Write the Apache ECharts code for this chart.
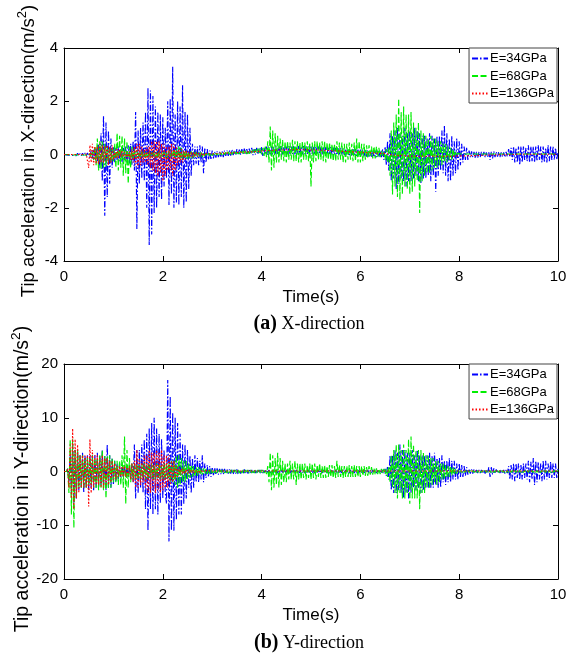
<!DOCTYPE html>
<html>
<head>
<meta charset="utf-8">
<script src="https://cdn.jsdelivr.net/npm/echarts@6/dist/echarts.min.js"></script>
<style>
  html, body { margin: 0; padding: 0; background: #fff; }
  #chart { width: 579px; height: 655px; }
</style>
</head>
<body>
<div id="chart"></div>
<script>
// sampling step of the read-off signals (s)
const dt = 0.025;
const seriesNames = ['E=34GPa', 'E=68GPa', 'E=136GPa'];
const xTicks = [0, 2, 4, 6, 8, 10];

// (a) X-direction, one row = 0.5 s
const x34 = [
  0,0.02,-0.02,0.03,-0.03,0.02,-0.03,0.04,-0.04,0.03,-0.04,0.05,-0.05,0.04,-0.05,0.05,-0.04,0.06,-0.05,0.06,
  0.1,-0.12,0.15,-0.15,0.2,-0.2,0.25,-0.25,0.4,-0.5,0.8,-1.0,1.45,-2.3,1.2,-1.6,0.9,-1.1,0.6,-0.5,
  0.3,-0.3,0.25,-0.2,0.3,-0.25,0.2,-0.3,0.25,-0.2,0.3,-0.3,0.35,-0.35,0.4,-0.4,0.5,-0.6,1.6,-2.8,
  0.9,-1.1,1.0,-0.9,1.2,-1.0,1.6,-2.0,2.5,-3.4,2.4,-3.0,2.2,-2.2,1.8,-2.0,1.6,-1.6,1.5,-1.7,
  1.4,-1.2,1.0,-0.9,2.0,-1.9,2.1,-1.5,3.3,-2.0,1.5,-1.8,2.0,-1.9,1.8,-1.6,2.6,-2.0,1.6,-1.8,
  1.5,-1.3,1.0,-0.8,0.4,-0.4,0.3,-0.35,0.3,-0.4,0.35,-0.3,0.3,-0.7,0.25,-0.3,0.2,-0.2,0.15,-0.2,
  0.15,-0.15,0.1,-0.12,0.12,-0.1,0.1,-0.08,0.12,-0.1,0.15,-0.05,0.15,-0.05,0.15,-0.04,0.18,-0.02,0.15,-0.02,
  0.2,0,0.18,0,0.2,0.02,0.22,0.02,0.2,0,0.22,0.02,0.25,-0.02,0.2,0,0.25,0,0.22,0.02,
  0.28,-0.05,0.25,0,0.3,-0.02,0.28,0,0.3,0,0.28,0.02,0.3,0.02,0.3,0,0.32,0,0.3,0.02,
  0.3,0,0.32,0.02,0.3,0.02,0.32,0,0.3,0.02,0.32,0.02,0.3,0,0.32,0.02,0.3,0.02,0.3,0,
  0.3,0,0.3,0.02,0.3,0,0.3,0.02,0.28,0,0.3,0,0.28,0,0.28,0.02,0.28,0,0.26,0,
  0.25,-0.02,0.25,0,0.24,0,0.22,-0.02,0.22,0,0.2,-0.02,0.2,-0.05,0.2,-0.03,0.2,-0.05,0.18,-0.05,
  0.18,-0.05,0.18,-0.06,0.18,-0.08,0.16,-0.08,0.15,-0.08,0.15,-0.1,0.15,-0.1,0.15,-0.1,0.15,-0.1,0.2,-0.2,
  0.3,-0.4,0.5,-0.6,0.8,-1.0,0.7,-0.9,0.9,-1.3,1.0,-1.1,0.8,-0.9,0.7,-1.0,1.0,-1.2,0.8,-1.0,
  0.9,-1.0,0.8,-0.9,1.0,-0.8,0.9,-1.0,0.8,-1.1,0.7,-0.9,0.7,-0.9,0.6,-0.8,0.8,-1.0,0.7,-0.8,
  0.6,-1.4,0.7,-0.8,0.7,-0.6,0.9,-0.7,1.1,-0.8,0.8,-1.0,0.6,-1.0,0.7,-0.8,0.5,-0.7,0.6,-0.6,
  0.5,-0.4,0.4,-0.3,0.3,-0.2,0.25,-0.2,0.15,-0.1,0.12,-0.1,0.1,-0.15,0.1,-0.12,0.1,-0.1,0.1,-0.08,
  0.1,-0.1,0.08,-0.1,0.08,-0.2,0.1,-0.15,0.12,-0.1,0.1,-0.08,0.1,-0.1,0.08,-0.08,0.08,-0.1,0.1,-0.08,
  0.2,-0.1,0.25,-0.2,0.3,-0.3,0.25,-0.3,0.3,-0.4,0.3,-0.3,0.3,-0.2,0.25,-0.25,0.35,-0.3,0.3,-0.25,
  0.3,-0.3,0.3,-0.25,0.35,-0.2,0.3,-0.3,0.3,-0.3,0.25,-0.3,0.35,-0.25,0.3,-0.2,0.3,-0.2,0.25,-0.2,
  0.1
];
const x68 = [
  0,0.01,-0.01,0.01,-0.01,0.01,-0.01,0.02,-0.02,0.01,-0.01,0.02,-0.02,0.02,-0.02,0.02,-0.02,0.02,-0.02,0.02,
  -0.05,0.05,-0.1,0.1,-0.2,0.3,-0.4,0.6,-0.6,0.5,-0.55,0.5,-0.5,0.4,-0.45,0.3,-0.3,0.3,-0.3,0.2,
  -0.3,0.4,-0.5,0.8,-0.6,0.7,-0.5,0.7,-0.8,0.6,-0.7,0.5,-1.1,0.3,-0.5,0.3,-0.2,0.2,-0.15,0.15,
  -0.15,0.1,-0.15,0.15,-0.1,0.1,-0.15,0.1,-0.1,0.1,-0.12,0.1,-0.1,0.12,-0.1,0.1,-0.15,0.12,-0.1,0.1,
  -0.1,0.1,-0.12,0.1,-0.15,0.15,-0.1,0.15,-0.1,0.2,-0.15,0.2,-0.1,0.3,-0.2,0.25,-0.2,0.15,-0.15,0.15,
  -0.2,0.1,-0.15,0.12,-0.15,0.1,-0.1,0.1,-0.1,0.08,-0.08,0.08,-0.1,0.05,-0.06,0.05,-0.05,0.05,-0.05,0.05,
  -0.05,0.05,-0.04,0.05,-0.03,0.06,-0.02,0.06,-0.02,0.08,-0.01,0.08,0,0.1,0,0.1,0,0.1,0.01,0.1,
  0.02,0.12,0.02,0.12,0.02,0.14,0.03,0.14,0.02,0.15,0.03,0.15,0.05,0.18,0.04,0.2,0.05,0.22,0.05,0.25,
  0,0.25,-0.05,0.3,-0.1,0.5,-0.3,1.05,-0.6,0.9,-0.5,0.8,-0.3,0.7,-0.3,0.6,-0.2,0.55,-0.25,0.5,
  -0.3,0.5,-0.2,0.45,-0.2,0.55,-0.25,0.5,-0.25,0.5,-0.3,0.45,-0.3,0.5,-0.2,0.45,-0.2,0.5,-0.25,0.45,
  -1.2,0.45,-0.3,0.5,-0.25,0.5,-0.2,0.45,-0.2,0.5,-0.25,0.5,-0.3,0.45,-0.2,0.45,-0.2,0.4,-0.25,0.4,
  -0.25,0.5,-0.2,0.45,-0.2,0.45,-0.3,0.4,-0.3,0.4,-0.2,0.45,-0.2,0.4,-0.25,0.45,-0.25,0.6,-0.3,0.5,
  -0.3,0.4,-0.25,0.4,-0.2,0.35,-0.15,0.35,-0.1,0.3,-0.15,0.3,-0.15,0.3,-0.1,0.25,-0.1,0.15,-0.05,0.1,
  -0.2,0.2,-0.3,0.3,-0.8,0.9,-1.5,1.2,-1.2,1.5,-1.6,2.1,-1.7,1.6,-1.5,1.8,-1.2,1.5,-1.3,1.5,
  -1.5,1.6,-1.4,1.2,-1.2,1.0,-1.0,1.2,-2.2,0.9,-1.0,0.8,-0.8,0.7,-0.7,0.6,-0.7,0.7,-0.6,0.6,
  -0.5,0.6,-0.5,0.5,-0.4,0.5,-0.4,0.4,-0.3,0.4,-0.3,0.3,-0.2,0.25,-0.2,0.2,-0.1,0.1,-0.05,0.05,
  -0.02,0.02,-0.02,0.02,-0.02,0.02,-0.02,0.02,-0.02,0.02,-0.02,0.02,-0.02,0.02,-0.02,0.02,-0.02,0.02,-0.02,0.02,
  -0.02,0.02,-0.02,0.02,-0.02,0.02,-0.02,0.02,-0.02,0.02,-0.02,0.02,-0.02,0.02,-0.02,0.02,-0.02,0.02,-0.02,0.02,
  -0.02,0.02,-0.02,0.02,-0.02,0.02,-0.02,0.02,-0.02,0.02,-0.02,0.02,-0.02,0.02,-0.02,0.02,-0.02,0.02,-0.02,0.02,
  -0.02,0.02,-0.02,0.02,-0.02,0.02,-0.02,0.02,-0.02,0.02,-0.02,0.02,-0.02,0.02,-0.02,0.02,-0.02,0.02,-0.02,0.02,
  0
];
const x136 = [
  0,0,0,0,0,0,0,0,0,0,0,0,0,0,0,0,0,0,0.02,-0.02,
  -0.5,0.35,-0.3,0.4,-0.4,0.3,-0.35,0.3,-0.35,0.4,-0.3,0.35,-0.3,0.3,-0.25,0.35,-0.4,0.3,-0.3,0.35,
  -0.2,0.15,-0.15,0.2,-0.15,0.2,-0.1,0.15,-0.1,0.1,-0.15,0.1,-0.15,0.1,-0.2,0.2,-0.3,0.3,-0.4,0.4,
  -0.5,0.4,-0.4,0.3,-0.3,0.2,-0.3,0.3,-0.4,0.3,-0.5,0.5,-0.6,0.5,-0.7,0.5,-0.8,0.5,-0.7,0.4,
  -1.0,0.4,-0.8,0.3,-0.6,0.3,-0.6,0.4,-0.8,0.4,-0.6,0.3,-0.4,0.2,-0.3,0.2,-0.3,0.15,-0.2,0.15,
  -0.1,0.1,-0.1,0.1,-0.1,0.08,-0.08,0.08,-0.08,0.05,-0.05,0.05,-0.05,0.05,-0.04,0.04,-0.03,0.03,-0.02,0.03,
  0,0.02,0.01,0.03,0.02,0.04,0.03,0.05,0.03,0.05,0.04,0.05,0.04,0.06,0.05,0.06,0.05,0.07,0.06,0.07,
  0.06,0.08,0.06,0.08,0.07,0.09,0.07,0.09,0.08,0.1,0.08,0.1,0.09,0.1,0.09,0.11,0.1,0.12,0.1,0.12,
  0.12,0.14,0.12,0.14,0.13,0.15,0.13,0.15,0.14,0.16,0.14,0.16,0.15,0.17,0.15,0.17,0.15,0.17,0.16,0.17,
  0.16,0.18,0.16,0.18,0.16,0.18,0.17,0.18,0.17,0.19,0.17,0.18,0.17,0.18,0.16,0.18,0.16,0.18,0.16,0.17,
  0.16,0.17,0.16,0.17,0.15,0.17,0.15,0.16,0.15,0.16,0.14,0.16,0.14,0.15,0.13,0.15,0.13,0.14,0.13,0.14,
  0.12,0.13,0.12,0.13,0.11,0.12,0.11,0.12,0.1,0.11,0.1,0.11,0.09,0.1,0.09,0.1,0.08,0.09,0.08,0.09,
  0.07,0.08,0.07,0.08,0.06,0.07,0.06,0.07,0.05,0.06,0.05,0.06,0.04,0.05,0.04,0.05,0.03,0.04,0.03,0.04,
  0.02,0.03,0,0.01,-0.02,-0.01,-0.04,-0.02,-0.05,-0.03,-0.06,-0.04,-0.05,-0.03,-0.05,-0.04,-0.06,-0.04,-0.05,-0.06,
  -0.05,-0.06,-0.05,-0.07,-0.05,-0.06,-0.05,-0.07,-0.05,-0.06,-0.05,-0.06,-0.05,-0.07,-0.05,-0.06,-0.05,-0.06,-0.05,-0.06,
  -0.05,-0.06,-0.05,-0.07,-0.05,-0.06,-0.05,-0.07,-0.05,-0.06,-0.05,-0.06,-0.05,-0.07,-0.05,-0.06,-0.05,-0.06,-0.05,-0.06,
  -0.05,-0.05,-0.05,-0.05,-0.04,-0.05,-0.04,-0.05,-0.04,-0.04,-0.04,-0.04,-0.03,-0.04,-0.03,-0.04,-0.03,-0.03,-0.03,-0.03,
  -0.03,-0.03,-0.03,-0.02,-0.03,-0.02,-0.02,-0.02,-0.02,-0.02,-0.02,-0.01,-0.02,-0.01,-0.02,-0.01,-0.01,-0.01,-0.01,-0.01,
  -0.01,0,-0.01,0,0,0,0,0.01,0,0.01,0,0.01,0,0.01,0,0.01,0,0.01,0,0.01,
  0,0.01,0,0.01,0,0.01,0,0.01,0,0.01,0,0.01,0,0.01,0,0.01,0,0.01,0,0.01,
  0
];

// (b) Y-direction, one row = 0.5 s
const y34 = [
  0,0,0,0.5,-2,3,-4,5,-6,4,-5,4,-3.5,3,-3,3.5,-4,3,-3,3,
  -3.5,3,-3,3,-3.5,3,-3,3.5,-3,3,-2.5,4,-3,3,-3.5,5,-3,3,-3,2.5,
  -2.5,2,-2,1.5,-1.5,1.5,-1.2,1.2,-1,1.2,-1,1,-1,1.2,-1.5,1.5,-2,5,-5,4,
  -4,4,-3,5,-4,6,-7,7,-11,8,-7,9,-8,10,-7,8,-8,7,-6,6,
  -5,4,-4,-6,17,-13,14,-11,11,-11,10,-9,9,-8,7,-8,5,-6,5,-5,
  4,-3,3,-4,2.5,-3,3,-2,2.5,-2,2,-1.5,3,-2,1.5,-1.2,1.2,-1,1,-1,
  0.8,-0.7,0.7,-0.6,0.6,-0.6,0.5,-0.5,0.5,-0.5,0.5,-0.4,0.4,-0.4,0.4,-0.4,0.4,-0.5,0.3,-0.4,
  0.4,-0.5,0.3,-0.4,0.3,-0.4,0.4,-0.3,0.3,-0.4,0.3,-0.3,0.3,-0.4,0.3,-0.3,0.3,-0.3,0.3,-0.3,
  0.3,-0.3,0.2,-0.3,0.3,-0.2,0.3,-0.3,0.2,-0.3,0.3,-0.2,0.3,-0.3,0.2,-0.3,0.3,-0.2,0.3,-0.3,
  0.3,-0.2,0.3,-0.3,0.2,-0.3,0.3,-0.2,0.3,-0.3,0.2,-0.3,0.3,-0.2,0.3,-0.3,0.2,-0.3,0.3,-0.2,
  0.3,-0.3,0.2,-0.3,0.3,-0.2,0.3,-0.3,0.2,-0.3,0.3,-0.2,0.3,-0.3,0.2,-0.3,0.3,-0.2,0.3,-0.3,
  0.3,-0.2,0.3,-0.3,0.2,-0.3,0.3,-0.2,0.3,-0.3,0.2,-0.3,0.3,-0.2,0.3,-0.3,0.2,-0.3,0.3,-0.2,
  0.3,-0.3,0.2,-0.3,0.3,-0.2,0.3,-0.3,0.2,-0.3,0.3,-0.2,0.3,-0.3,0.2,-0.3,0.3,-0.2,0.3,-0.3,
  0.5,-0.8,1,-1.5,3,-3.5,3,-4,4,-4,3.5,-3.5,5,-4,4,-5,4,-4,3.5,-5,
  3.5,-4,4,-3,3,-3.5,4,-3,3,-4,3,-3.5,3,-3,3,-3,3.5,-3,3,-3,
  3.5,-2.5,2.5,-3,2.5,-3,3,-2,2,-2.5,2,-2,2.5,-2,2,-1.5,2,-1.5,1.5,-1.5,
  1.5,-1,1.2,-1,1,-0.8,0.8,-0.6,0.5,-0.4,0.4,-0.4,0.4,-0.3,0.3,-0.3,0.3,-0.3,0.3,-0.3,
  0.3,-0.4,0.3,-0.3,0.8,-1,0.8,-0.6,0.6,-0.4,0.4,-0.3,0.3,-0.3,0.3,-0.3,0.3,-0.4,0.3,-0.3,
  1,-1.5,1.2,-1.5,1.5,-1.8,1.5,-1.2,1.5,-1.5,1.2,-1.5,1.5,-1.2,1.5,-1.5,2,-2,1.8,-1.5,
  2.5,-2.5,2,-2,1.8,-1.5,1.5,-1.8,2,-1.5,2,-1.5,1.5,-1.2,1.8,-1.2,1.5,-1.2,1.5,-1.2,
  0.5
];
const y68 = [
  0,0,0,0.5,-4,6,-8,6,-10.5,4,-5,4,-3,3,-3,3,-3,2.5,-3,2.5,
  -2.5,2.5,-2.5,3,-3,2.5,-3,2.5,-3.5,3,-3,4,-3.5,3,-5,3,-3,3,-3,2.5,
  -2,2,-2,2,-2.5,2,-2.5,3,-3,6.5,-6,4,-3,2.5,-2,1.5,-1.5,1.5,-1.5,1.5,
  -1.5,1.2,-1.5,1.5,-1.2,1.5,-1.5,1.2,-1.5,1.5,-1.2,1.5,-1.5,1.2,-1.5,1.5,-1.2,1.5,-1.5,1.2,
  -1.5,1.5,-1.5,1.5,-1.5,1.5,-2,2,-2,2,-2.5,3,-3,3,-2.5,2.5,-2,2,-2,2,
  -1.5,1.5,-1.2,1.2,-1,1,-1,0.8,-0.8,0.8,-0.6,0.6,-0.6,0.6,-0.5,0.5,-0.5,0.5,-0.4,0.4,
  -0.3,0.3,-0.3,0.3,-0.3,0.3,-0.3,0.3,-0.3,0.3,-0.3,0.3,-0.3,0.3,-0.3,0.3,-0.3,0.3,-0.3,0.3,
  -0.3,0.3,-0.3,0.3,-0.3,0.3,-0.3,0.3,-0.3,0.3,-0.3,0.3,-0.3,0.3,-0.3,0.3,-0.3,0.3,-0.3,0.3,
  -0.3,0.3,-0.3,0.3,-0.5,1,-2,3.5,-3.5,3,-3,2.5,-2.5,3.5,-3,2.5,-2.5,2,-2,1.5,
  -2,1.5,-1.5,2,-1.5,1.5,-1.5,2,-2.5,1.5,-1.5,1.5,-1.5,1.5,-1.2,1.5,-1.5,1.2,-1.2,1.5,
  -1.5,1.5,-1.2,1.5,-1.5,1.2,-1,1.5,-1.2,1,-1.2,1.2,-1.2,1,-1,1.2,-1,1.2,-1.2,1,
  -1.2,2,-1,1.2,-1,1,-1.2,1,-1,1,-1,1.2,-1,1,-1,1.2,-1,1,-1,1,
  -1,1,-0.8,1,-0.8,0.8,-0.8,1,-0.6,0.8,-0.6,0.6,-0.6,0.6,-0.5,0.5,-0.5,0.5,-0.4,0.5,
  -0.5,0.5,-1,1,-2,3,-3,4,-4,5,-5,5,-4,4,-5,5,-5,4,-4,6,
  -6,6.5,-5,5,-5,4,-5,4,-7,4,-4,3.5,-4,3,-3,3,-3,2.5,-2.5,2.5,
  -2,2,-2.5,2,-2,1.5,-1.5,1.5,-1.5,1.2,-1,1,-1,1,-0.8,0.8,-0.6,0.5,-0.4,0.3,
  -0.2,0.2,-0.2,0.2,-0.2,0.2,-0.2,0.2,-0.2,0.2,-0.2,0.2,-0.2,0.2,-0.2,0.2,-0.2,0.2,-0.2,0.2,
  -0.2,0.2,-0.2,0.2,-0.2,0.2,-0.2,0.2,-0.2,0.2,-0.2,0.2,-0.2,0.2,-0.2,0.2,-0.2,0.2,-0.2,0.2,
  -0.2,0.2,-0.2,0.2,-0.2,0.2,-0.2,0.2,-0.2,0.2,-0.2,0.2,-0.2,0.2,-0.2,0.2,-0.2,0.2,-0.2,0.2,
  -0.2,0.2,-0.2,0.2,-0.2,0.2,-0.2,0.2,-0.2,0.2,-0.2,0.2,-0.2,0.2,-0.2,0.2,-0.2,0.2,-0.2,0.2,
  0
];
const y136 = [
  0,0,0,0.5,-3,5,-5,8,-7,6,-5,5,-4,3,-3,3,-3,3,-3,3,
  -6.5,6,-4,4,-3,3,-2.5,3,-2.5,2.5,-3,3,-3,2.5,-2.5,2.5,-2.5,2,-2,2,
  -1.5,1.5,-1.5,1,-1,1,-1,1,-1,1,-1,0.8,-0.8,1,-1.5,1.5,-2,2,-3,4,
  -3,2.5,-2.5,2,-2,3,-3,3,-4,4,-4,3.5,-3.5,3.5,-4,4,-3.5,3.5,-4,4,
  -3.5,3,-3,3,-3,3,-2.5,2,-2,2,-1.5,1,-1,0.8,-0.6,0.5,-0.5,0.5,-0.4,0.4,
  -0.4,0.4,-0.3,0.3,-0.3,0.3,-0.3,0.2,-0.2,0.2,-0.2,0.2,-0.2,0.2,-0.15,0.15,-0.15,0.15,-0.1,0.1,
  -0.1,0.1,-0.1,0.1,-0.1,0.1,-0.1,0.1,-0.1,0.1,-0.1,0.1,-0.1,0.1,-0.1,0.1,-0.1,0.1,-0.1,0.1,
  -0.1,0.1,-0.1,0.1,-0.1,0.1,-0.1,0.1,-0.1,0.1,-0.1,0.1,-0.1,0.1,-0.1,0.1,-0.1,0.1,-0.1,0.1,
  -0.1,0.1,-0.1,0.1,-0.1,0.1,-0.1,0.1,-0.1,0.1,-0.1,0.1,-0.1,0.1,-0.1,0.1,-0.1,0.1,-0.1,0.1,
  -0.1,0.1,-0.1,0.1,-0.1,0.1,-0.1,0.1,-0.1,0.1,-0.1,0.1,-0.1,0.1,-0.1,0.1,-0.1,0.1,-0.1,0.1,
  -0.1,0.1,-0.1,0.1,-0.1,0.1,-0.1,0.1,-0.1,0.1,-0.1,0.1,-0.1,0.1,-0.1,0.1,-0.1,0.1,-0.1,0.1,
  -0.1,0.1,-0.1,0.1,-0.1,0.1,-0.1,0.1,-0.1,0.1,-0.1,0.1,-0.1,0.1,-0.1,0.1,-0.1,0.1,-0.1,0.1,
  -0.1,0.1,-0.1,0.1,-0.1,0.1,-0.1,0.1,-0.1,0.1,-0.1,0.1,-0.1,0.1,-0.1,0.1,-0.1,0.1,-0.1,0.1,
  -0.1,0.1,-0.1,0.1,-0.1,0.1,-0.1,0.1,-0.1,0.1,-0.1,0.1,-0.1,0.1,-0.1,0.1,-0.1,0.1,-0.1,0.1,
  -0.1,0.1,-0.1,0.1,-0.1,0.1,-0.1,0.1,-0.1,0.1,-0.1,0.1,-0.1,0.1,-0.1,0.1,-0.1,0.1,-0.1,0.1,
  -0.1,0.1,-0.1,0.1,-0.1,0.1,-0.1,0.1,-0.1,0.1,-0.1,0.1,-0.1,0.1,-0.1,0.1,-0.1,0.1,-0.1,0.1,
  -0.1,0.1,-0.1,0.1,-0.1,0.1,-0.1,0.1,-0.1,0.1,-0.1,0.1,-0.1,0.1,-0.1,0.1,-0.1,0.1,-0.1,0.1,
  -0.1,0.1,-0.1,0.1,-0.1,0.1,-0.1,0.1,-0.1,0.1,-0.1,0.1,-0.1,0.1,-0.1,0.1,-0.1,0.1,-0.1,0.1,
  -0.1,0.1,-0.1,0.1,-0.1,0.1,-0.1,0.1,-0.1,0.1,-0.1,0.1,-0.1,0.1,-0.1,0.1,-0.1,0.1,-0.1,0.1,
  -0.1,0.1,-0.1,0.1,-0.1,0.1,-0.1,0.1,-0.1,0.1,-0.1,0.1,-0.1,0.1,-0.1,0.1,-0.1,0.1,-0.1,0.1,
  0
];

const font = 'Arial, "Liberation Sans", sans-serif';
const serif = '"Times New Roman", "Liberation Serif", serif';
const colors = ['#0000ff', '#00ee00', '#ff0000'];
const dashes = [[6, 2, 1.5, 2], [6, 2.5], [1.5, 2]];

const toXY = arr => arr.map((v, i) => [+(i * dt).toFixed(3), v]);

let chart = echarts.init(document.getElementById('chart'));

// 框线 + 刻度向内
const boxAxis = (grid, pos, extra) => Object.assign({
    type: 'value',
    gridIndex: grid,
    position: pos,
    axisLine: { show: true, onZero: false, lineStyle: { color: '#000', width: 1 } },
    axisTick: { show: true, inside: true, length: 5, lineStyle: { color: '#000' } },
    axisLabel: { show: false },
    splitLine: { show: false }
}, extra);

const xMain = grid => boxAxis(grid, 'bottom', {
    min: 0, max: 10, interval: 2,
    name: 'Time(s)', nameLocation: 'middle', nameGap: 28,
    nameTextStyle: { fontFamily: font, fontSize: 17, color: '#000' },
    axisLabel: { show: true, color: '#000', fontFamily: font, fontSize: 15, margin: 8,
        formatter: v => xTicks.includes(v) ? String(v) : '' }
});
const yMain = (grid, lim, step) => boxAxis(grid, 'left', {
    min: -lim, max: lim, interval: step,
    axisLabel: { show: true, color: '#000', fontFamily: font, fontSize: 15, margin: 6 }
});

// 纵轴标题 (带上标 2)
const yTitle = (dir, cx, cy, size) => ({
    type: 'text',
    x: cx, y: cy,
    rotation: Math.PI / 2,
    style: {
        text: '{t|Tip acceleration in ' + dir + '-direction(m/s}{s|2}{t|)}',
        align: 'center', verticalAlign: 'middle',
        rich: {
            t: { fontFamily: font, fontSize: size, lineHeight: size + 8, fill: '#000' },
            s: { fontFamily: font, fontSize: size * 0.7, lineHeight: size * 0.7, verticalAlign: 'top', fill: '#000' }
        }
    }
});

const lineSeries = (name, data, k, xi, yi) => ({
    name: name,
    type: 'line',
    xAxisIndex: xi,
    yAxisIndex: yi,
    data: toXY(data),
    showSymbol: false,
    symbol: 'none',
    sampling: 'none',
    color: colors[k],
    lineStyle: { color: colors[k], width: 1.15, type: dashes[k] },
    silent: true,
    animation: false
});

const legendBox = top => ({
    right: 22, top: top,
    orient: 'vertical',
    data: seriesNames,
    backgroundColor: '#fff',
    borderColor: '#444', borderWidth: 1, borderRadius: 0,
    padding: [4, 3, 3, 2],
    itemGap: 4.5, itemWidth: 16, itemHeight: 12,
    itemStyle: { opacity: 0, borderWidth: 0 },
    selectedMode: false,
    textStyle: { fontFamily: font, fontSize: 13, color: '#000', padding: [0, 0, 0, -3] }
});

const captionRich = {
    b: { fontFamily: serif, fontSize: 20, fontWeight: 'bold', color: '#000' },
    n: { fontFamily: serif, fontSize: 18, fontWeight: 'normal', color: '#000' }
};

let options = {
    backgroundColor: '#fff',
    animation: false,
    grid: [
        { left: 64, top: 48, width: 494, height: 213 },
        { left: 64, top: 364, width: 494, height: 215 }
    ],
    xAxis: [
        xMain(0),
        xMain(1),
        boxAxis(0, 'top', { min: 0, max: 10, interval: 2 }),
        boxAxis(1, 'top', { min: 0, max: 10, interval: 2 })
    ],
    yAxis: [
        yMain(0, 4, 2),
        yMain(1, 20, 10),
        boxAxis(0, 'right', { min: -4, max: 4, interval: 2 }),
        boxAxis(1, 'right', { min: -20, max: 20, interval: 10 })
    ],
    legend: [legendBox(48), legendBox(364)],
    title: [
        {
            text: '{b|(a)}{n| X-direction}', left: 304, top: 309, textAlign: 'center',
            textStyle: { fontWeight: 'normal', rich: captionRich }
        },
        {
            text: '{b|(b)}{n| Y-direction}', left: 304, top: 628, textAlign: 'center',
            textStyle: { fontWeight: 'normal', rich: captionRich }
        }
    ],
    graphic: [
        yTitle('X', 29, 151, 18.5),
        yTitle('Y', 23, 479, 19.5)
    ],
    series: [
        lineSeries(seriesNames[0], x34, 0, 0, 0),
        lineSeries(seriesNames[1], x68, 1, 0, 0),
        lineSeries(seriesNames[2], x136, 2, 0, 0),
        lineSeries(seriesNames[0], y34, 0, 1, 1),
        lineSeries(seriesNames[1], y68, 1, 1, 1),
        lineSeries(seriesNames[2], y136, 2, 1, 1)
    ]
};
chart.setOption(options);
</script>
</body>
</html>
